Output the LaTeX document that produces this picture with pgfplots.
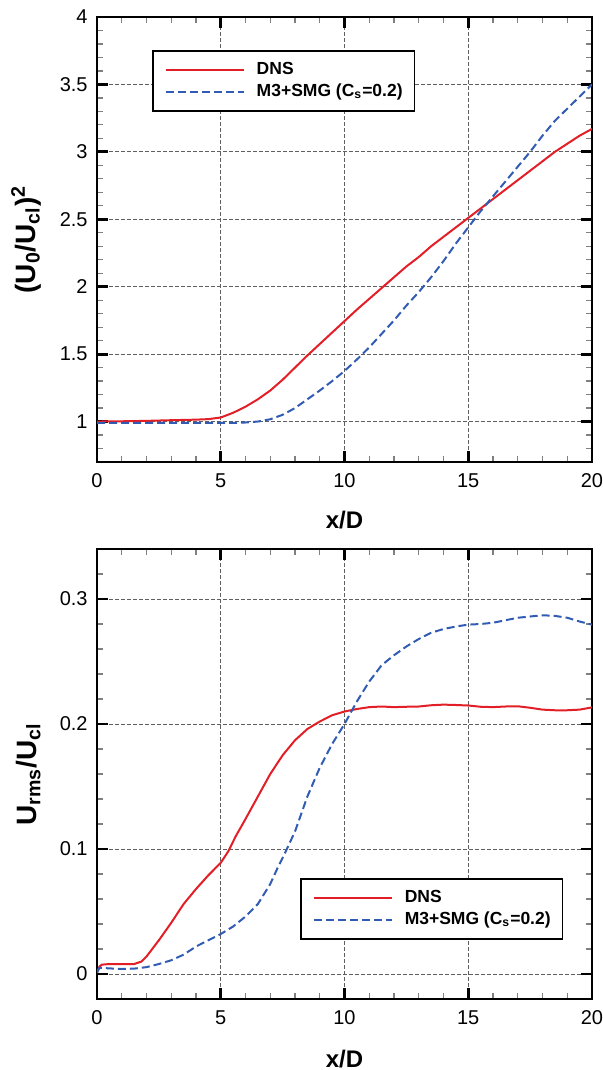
\documentclass[border=0pt]{standalone}
\usepackage{fontspec}
\setmainfont{Liberation Sans}
\usepackage{pgfplots}
\pgfplotsset{compat=1.18}
\definecolor{dnsred}{RGB}{226,30,38}
\definecolor{lesblue}{RGB}{50,92,180}
\definecolor{gridgray}{RGB}{95,95,95}

\pgfplotsset{
  jetaxis/.style={
    scale only axis, width=247.5pt,
    xmin=0, xmax=20, xtick={0,5,...,20}, minor x tick num=4,
    tick align=inside, tick pos=both,
    major tick length=5.5pt, minor tick length=3pt,
    major tick style={black, line width=1.4pt},
    minor tick style={gray, line width=0.6pt},
    axis line style={line width=1.2pt},
    grid=major,
    major grid style={gridgray, line width=0.4pt, dash pattern=on 2pt off 1pt},
    /pgf/number format/assume math mode=true,
    every tick label/.append style={font=\fontsize{10}{12}\selectfont, inner sep=0pt},
    xticklabel style={yshift=-5.5pt},
    yticklabel style={xshift=-4.5pt},
    xlabel style={font=\bfseries\fontsize{12}{14}\selectfont},
    ylabel style={font=\bfseries\fontsize{14}{16}\selectfont},
    xlabel={x/D},
    legend cell align=left,
    legend image code/.code={\draw[##1] (0pt,0pt) -- (39pt,0pt);},
    legend style={draw=black, line width=0.8pt, fill=white,
      inner xsep=6pt, inner ysep=5pt,
      font=\bfseries\fontsize{8.75}{10}\selectfont,
      nodes={inner sep=0pt, text height=7pt, text depth=2pt},
      row sep=2pt, column sep=6pt, anchor=north west},
  },
  dns/.style={dnsred, line width=1pt},
  les/.style={lesblue, line width=1pt, dash pattern=on 4pt off 2pt},
}

\begin{document}
\begin{tikzpicture}
% upper panel: (U0/Ucl)^2
\begin{axis}[jetaxis,
  at={(48.5pt,-231pt)}, anchor=south west, height=222.5pt,
  ymin=0.7, ymax=4, ytick={1,1.5,...,4},
  minor ytick={0.8,0.9,1.1,1.2,1.3,1.4,1.6,1.7,1.8,1.9,2.1,2.2,2.3,2.4,2.6,2.7,2.8,2.9,3.1,3.2,3.3,3.4,3.6,3.7,3.8,3.9},
  ylabel={(U\textsubscript{0}/U\textsubscript{cl})\textsuperscript{2}},
  ylabel style={at={(axis description cs:-0.143,0.5)}, anchor=center},
  xlabel style={at={(axis description cs:0.5,-0.13)}, anchor=center},
  legend style={at={(axis description cs:0.111,0.926)}},
]
\addplot[dns] coordinates {
  (0,1.000) (1,1.002) (2,1.005) (3,1.010) (4,1.014) (4.5,1.018) (5,1.030)
  (5.5,1.065) (6,1.11) (6.5,1.165) (7,1.23) (7.5,1.31) (8,1.40) (8.5,1.49)
  (9,1.575) (9.5,1.66) (10,1.745) (10.5,1.83) (11,1.91) (11.5,1.99) (12,2.07)
  (12.5,2.15) (13,2.22) (13.5,2.30) (14,2.37) (14.5,2.44) (15,2.51) (15.5,2.58)
  (16,2.65) (16.5,2.72) (17,2.79) (17.5,2.86) (18,2.93) (18.5,3.00) (19,3.06)
  (19.5,3.12) (20,3.17)};
\addplot[les] coordinates {
  (0,0.99) (1,0.99) (2,0.99) (3,0.99) (4,0.99) (5,0.99) (5.5,0.99) (6,0.993)
  (6.5,1.0) (7,1.017) (7.5,1.05) (8,1.10) (8.5,1.165) (9,1.23) (9.5,1.30)
  (10,1.375) (10.5,1.46) (11,1.55) (11.5,1.65) (12,1.75) (12.5,1.86) (13,1.96)
  (13.5,2.07) (14,2.19) (14.5,2.32) (15,2.44) (15.5,2.56) (16,2.67) (16.5,2.78)
  (17,2.89) (17.5,3.0) (18,3.12) (18.5,3.23) (19,3.32) (19.5,3.41) (20,3.5)};
\legend{DNS, M3+SMG (C\textsubscript{s}=0.2)}
\end{axis}

% lower panel: Urms/Ucl
\begin{axis}[jetaxis,
  at={(48.5pt,-499.5pt)}, anchor=south west, height=225pt,
  ymin=-0.02, ymax=0.34, ytick={0,0.1,0.2,0.3},
  minor ytick={0.02,0.04,0.06,0.08,0.12,0.14,0.16,0.18,0.22,0.24,0.26,0.28,0.32},
  ylabel={U\textsubscript{rms}/U\textsubscript{cl}},
  ylabel style={at={(axis description cs:-0.139,0.5)}, anchor=center},
  xlabel style={at={(axis description cs:0.5,-0.133)}, anchor=center},
  legend style={at={(axis description cs:0.410,0.269)}},
]
\addplot[dns] coordinates {
  (0,0.001) (0.1,0.006) (0.2,0.0075) (0.5,0.008) (1,0.008) (1.5,0.008)
  (1.8,0.010) (2,0.014) (2.5,0.027) (3,0.041) (3.5,0.056) (4,0.068) (4.5,0.079)
  (5,0.089) (5.3,0.098) (5.6,0.110) (6,0.124) (6.5,0.142) (7,0.160) (7.5,0.175)
  (8,0.187) (8.5,0.196) (9,0.202) (9.5,0.207) (10,0.210) (10.5,0.212)
  (11,0.2135) (11.5,0.214) (12,0.2135) (12.5,0.2138) (13,0.214) (13.5,0.215)
  (14,0.2155) (14.5,0.2152) (15,0.2148) (15.5,0.2138) (16,0.2135) (16.5,0.214)
  (17,0.2142) (17.5,0.213) (18,0.2115) (18.5,0.211) (19,0.211) (19.5,0.2115)
  (20,0.2133)};
\addplot[les] coordinates {
  (0,0.001) (0.1,0.005) (0.5,0.0045) (1,0.004) (1.5,0.0043) (2,0.0055)
  (2.5,0.008) (3,0.011) (3.5,0.0155) (4,0.022) (4.5,0.027) (5,0.032) (5.5,0.038)
  (6,0.046) (6.5,0.056) (7,0.072) (7.3,0.085) (7.6,0.097) (8,0.114) (8.5,0.142)
  (9,0.165) (9.5,0.184) (10,0.200) (10.5,0.218) (11,0.234) (11.5,0.247)
  (12,0.255) (12.5,0.262) (13,0.268) (13.5,0.273) (14,0.276) (14.5,0.278)
  (15,0.2795) (15.5,0.2800) (16,0.281) (16.5,0.283) (17,0.285) (17.5,0.286)
  (18,0.287) (18.5,0.2865) (19,0.285) (19.5,0.282) (20,0.2795)};
\legend{DNS, M3+SMG (C\textsubscript{s}=0.2)}
\end{axis}

\pgfresetboundingbox
\path (0pt,0pt) rectangle (301.5pt,-535pt);
\end{tikzpicture}
\end{document}
